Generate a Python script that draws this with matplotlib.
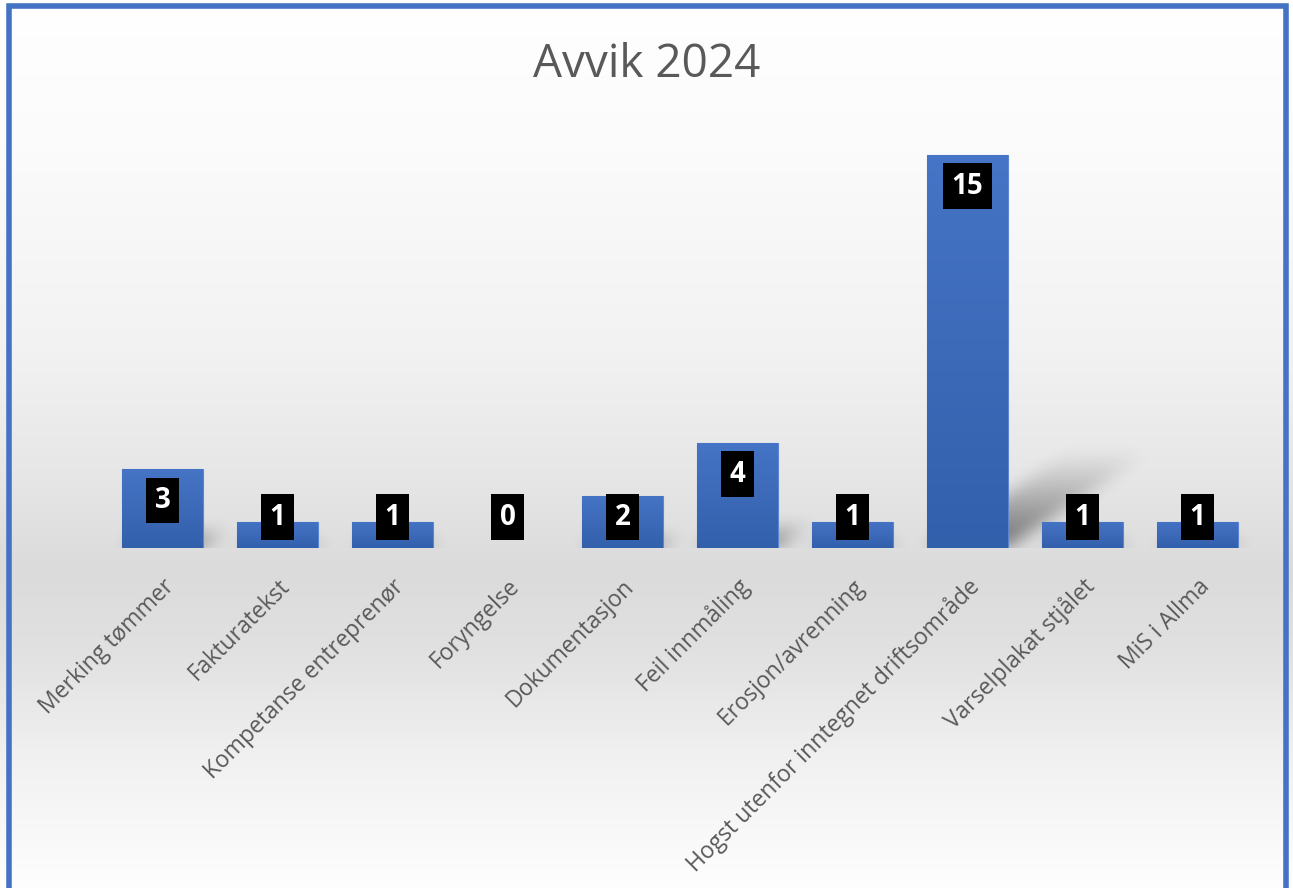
## bar chart of deviations (avvik) for 2024, styled like an Excel chart
import numpy as np
import matplotlib.pyplot as plt
from matplotlib.lines import Line2D
from matplotlib.colors import LinearSegmentedColormap

## chart data
categories = ['Merking tømmer', 'Fakturatekst', 'Kompetanse entreprenør', 'Foryngelse',
              'Dokumentasjon', 'Feil innmåling', 'Erosjon/avrenning',
              'Hogst utenfor inntegnet driftsområde', 'Varselplakat stjålet', 'MiS i Allma']
values = [3, 1, 1, 0, 2, 4, 1, 15, 1, 1]
title = 'Avvik 2024'

plt.rcParams['font.family'] = ['Open Sans', 'DejaVu Sans']

W, H = 1293, 888
fig = plt.figure(figsize=(W / 100, H / 100), dpi=100)
fig.patch.set_facecolor('white')

## background gradient: white at top, grey near the baseline, white at the bottom
bg = fig.add_axes([0, 0, 1, 1], zorder=-10)
ys = np.arange(H)
stops_y = [0, 150, 350, 480, 570, 650, 760, 888]
stops_v = [255, 251, 242, 230, 219, 225, 241, 254]
grey = np.interp(ys, stops_y, stops_v) / 255.0
bg.imshow(np.dstack([grey[:, None]] * 3), aspect='auto', extent=[0, 1, 0, 1], origin='upper')
bg.axis('off')

## main plotting area
x0_px, x1_px, base_px = 105, 1255, 548
ymax = 16
ppu = (548 - 155) / 15.0
top_px = base_px - ymax * ppu
ax = fig.add_axes([x0_px / W, (H - base_px) / H, (x1_px - x0_px) / W, (base_px - top_px) / H])
ax.patch.set_visible(False)

x = np.arange(len(values))
bar_w = 0.7
bars = ax.bar(x, values, width=bar_w, color='#4472c4', edgecolor='#5a86d2',
              linewidth=[0.8 if v > 0 else 0 for v in values], zorder=3)

## vertical gradient inside each bar
bar_cmap = LinearSegmentedColormap.from_list('barg', ['#3360ab', '#4674c6'])
grad = np.linspace(0, 1, 100)[:, None]
for rect, v in zip(bars, values):
    if v <= 0:
        continue
    im = ax.imshow(grad, cmap=bar_cmap, aspect='auto', origin='lower', zorder=3.2,
                   extent=[rect.get_x(), rect.get_x() + rect.get_width(), 0, v])
    im.set_clip_path(rect)


## soft perspective shadows behind the bars
def blur1d(a, r, axis):
    a = np.moveaxis(a, axis, -1)
    p = np.pad(a, [(0, 0), (r + 1, r)], mode='constant')
    c = np.cumsum(p, axis=-1)
    out = (c[:, 2 * r + 1:] - c[:, :-2 * r - 1]) / (2 * r + 1)
    return np.moveaxis(out, -1, axis)


sx0, sx1, sy0, sy1 = -0.5, len(values) - 0.5, -1.0, ymax
nx, ny = int(x1_px - x0_px), int((sy1 - sy0) * ppu)
gx = np.linspace(sx0, sx1, nx)
gy = np.linspace(sy0, sy1, ny)
XX, YY = np.meshgrid(gx, gy)
shadow = np.zeros_like(XX)
for xi, v in zip(x, values):
    if v <= 0:
        continue
    hs = 0.25 * v
    shift = 0.085 * v
    t = YY / hs
    inside = (t >= 0) & (t <= 1)
    left = xi - bar_w / 2 + t * shift
    right = xi + bar_w / 2 + t * shift
    m = inside & (XX >= left) & (XX <= right)
    shadow = np.maximum(shadow, np.where(m, (1 - t) ** 1.1 * 0.5, 0))
for _ in range(3):
    shadow = blur1d(shadow, 7, 0)
    shadow = blur1d(shadow, 7, 1)
sh_rgba = np.zeros(shadow.shape + (4,))
sh_rgba[..., 3] = np.clip(shadow, 0, 1)
ax.imshow(sh_rgba, origin='lower', aspect='auto', extent=[sx0, sx1, sy0, sy1], zorder=2)

ax.set_xlim(-0.5, len(values) - 0.5)
ax.set_ylim(0, ymax)

## data labels: black boxes, inside end, kept above the baseline
off = 31 / ppu
for xi, v in zip(x, values):
    ly = max(v, 2 * off) - off
    ax.text(xi, ly, str(v), ha='center', va='center', color='white', fontsize=20,
            fontweight='bold', zorder=6,
            bbox=dict(boxstyle='square,pad=0.3', fc='black', ec='none'))

## axes styling
for s in ax.spines.values():
    s.set_visible(False)
ax.set_yticks([])
ax.set_xticks(x)
ax.set_xticklabels(categories, rotation=45, ha='right', rotation_mode='anchor',
                   fontsize=16.5, color='#595959')
ax.tick_params(axis='x', length=0, pad=19)

## title
fig.text(0.5, 1 - 77 / H, title, ha='center', va='baseline', fontsize=33, color='#595959')

## blue chart border (bottom edge cut off)
fig.add_artist(Line2D([8.5 / W, 8.5 / W, 1285.5 / W, 1285.5 / W],
                      [0, 1 - 6 / H, 1 - 6 / H, 0], transform=fig.transFigure,
                      color='#4472c4', linewidth=4, solid_joinstyle='miter'))

fig.savefig('out.png', dpi=100)
